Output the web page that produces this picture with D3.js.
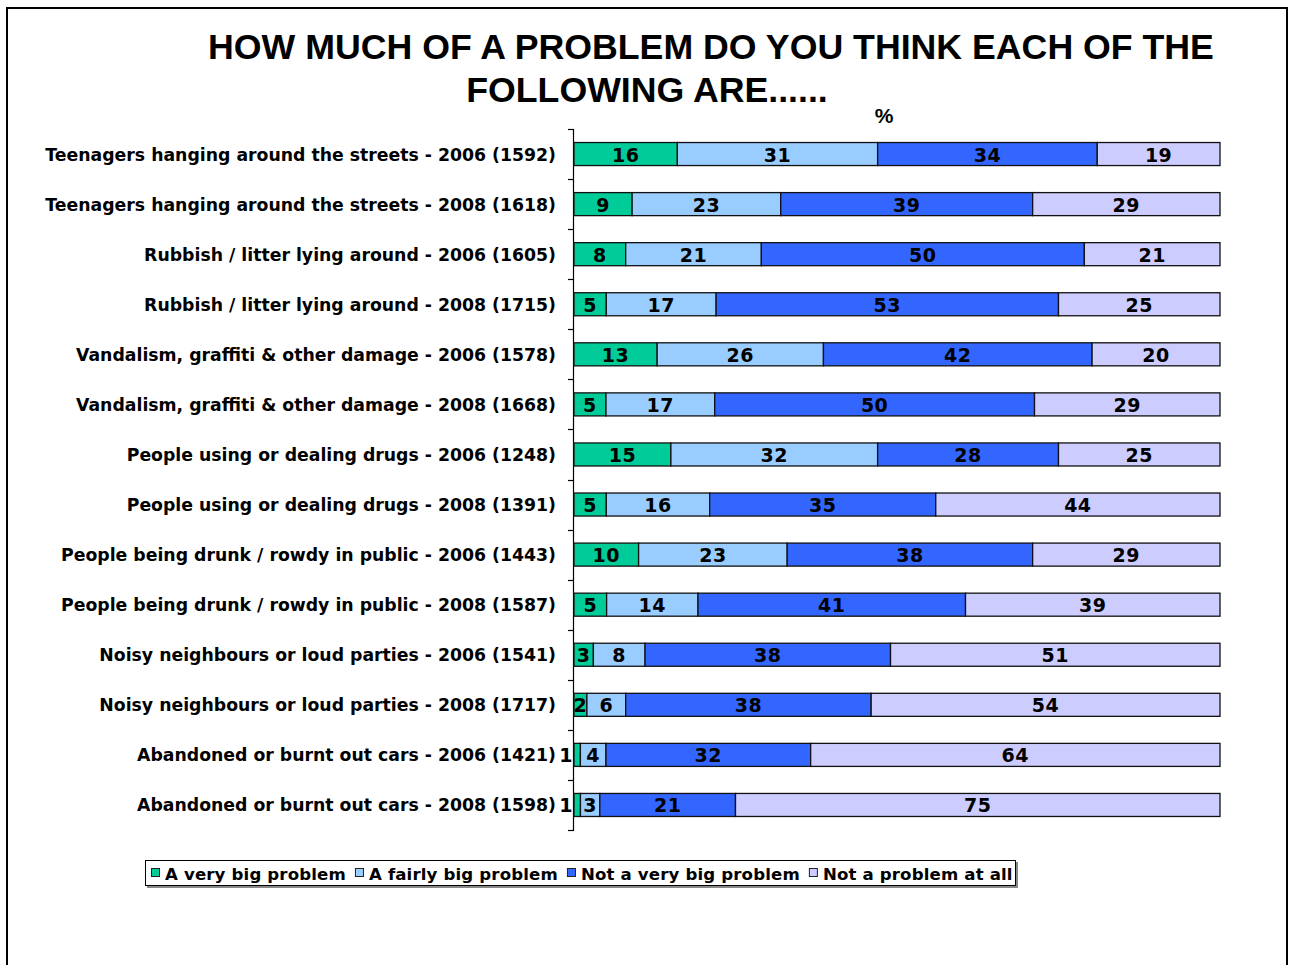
<!DOCTYPE html>
<html><head><meta charset="utf-8">
<script src="https://cdn.jsdelivr.net/npm/d3@7"></script>
<style>body{margin:0;background:#fff}</style>
</head><body>
<svg id="c" width="1291" height="965"></svg>
<script>
const categories = [
 "Teenagers hanging around the streets - 2006 (1592)",
 "Teenagers hanging around the streets - 2008 (1618)",
 "Rubbish / litter lying around - 2006 (1605)",
 "Rubbish / litter lying around - 2008 (1715)",
 "Vandalism, graffiti & other damage - 2006 (1578)",
 "Vandalism, graffiti & other damage - 2008 (1668)",
 "People using or dealing drugs - 2006 (1248)",
 "People using or dealing drugs - 2008 (1391)",
 "People being drunk / rowdy in public - 2006 (1443)",
 "People being drunk / rowdy in public - 2008 (1587)",
 "Noisy neighbours or loud parties - 2006 (1541)",
 "Noisy neighbours or loud parties - 2008 (1717)",
 "Abandoned or burnt out cars - 2006 (1421)",
 "Abandoned or burnt out cars - 2008 (1598)"
];
const seriesNames = ["A very big problem","A fairly big problem","Not a very big problem","Not a problem at all"];
const veryBig    = [16, 9, 8, 5,13, 5,15, 5,10, 5, 3, 2, 1, 1];
const fairlyBig  = [31,23,21,17,26,17,32,16,23,14, 8, 6, 4, 3];
const notVeryBig = [34,39,50,53,42,50,28,35,38,41,38,38,32,21];
const notAtAll   = [19,29,21,25,20,29,25,44,29,39,51,54,64,75];
const colors = ["#00CC99","#99CCFF","#3366FF","#CCCCFF"];
const titleLines = ["HOW MUCH OF A PROBLEM DO YOU THINK EACH OF THE","FOLLOWING ARE......"];

const svg = d3.select("#c");
svg.append("rect").attr("x",0).attr("y",0).attr("width",1291).attr("height",965).attr("fill","#fff");
svg.append("rect").attr("x",7).attr("y",8).attr("width",1280).attr("height",1000)
  .attr("fill","none").attr("stroke","#000").attr("stroke-width",2);

// title
svg.append("text").attr("x",711).attr("y",59).attr("text-anchor","middle")
  .attr("font-family","Liberation Sans, Arial, sans-serif").attr("font-weight","bold")
  .attr("font-size",35.7).text(titleLines[0]);
svg.append("text").attr("x",647).attr("y",102).attr("text-anchor","middle")
  .attr("font-family","Liberation Sans, Arial, sans-serif").attr("font-weight","bold")
  .attr("font-size",35.7).text(titleLines[1]);
svg.append("text").attr("x",884).attr("y",123).attr("text-anchor","middle")
  .attr("font-family","Liberation Sans, Arial, sans-serif").attr("font-weight","bold")
  .attr("font-size",21).text("%");

const rows = categories.map((c,i)=>{
  const vals=[veryBig[i],fairlyBig[i],notVeryBig[i],notAtAll[i]];
  const tot=d3.sum(vals); let acc=0;
  return {cat:c, segs: vals.map((v,k)=>{const s={k, v, x0:acc/tot, x1:(acc+v)/tot}; acc+=v; return s;})};
});

const x = d3.scaleLinear().domain([0,1]).range([574,1220]);
const y = d3.scaleBand().domain(categories).range([129,830]).paddingInner(0.54).paddingOuter(0.27);
const step = y.step(), gap = (step - y.bandwidth())/2;

// axis line and ticks between categories
const axisG = svg.append("g");
axisG.append("line").attr("x1",573.5).attr("x2",573.5).attr("y1",129).attr("y2",830).attr("stroke","#000").attr("stroke-width",1.2);
const tickYs = categories.map(c=>y(c)-gap).concat([y(categories[categories.length-1])+y.bandwidth()+gap]);
axisG.selectAll("line.t").data(tickYs).enter().append("line").attr("class","t")
  .attr("x1",568).attr("x2",574).attr("y1",d=>Math.round(d)+0.5).attr("y2",d=>Math.round(d)+0.5)
  .attr("stroke","#000").attr("stroke-width",1.2);

// category labels
svg.append("g").selectAll("text").data(categories).enter().append("text")
  .attr("x",556).attr("y",d=>y(d)+y.bandwidth()/2+6.5).attr("text-anchor","end")
  .attr("font-family","DejaVu Sans, Verdana, sans-serif").attr("font-weight","bold")
  .attr("font-size",17.3).attr("fill","#000").text(d=>d);

// bars
const rowG = svg.append("g").selectAll("g").data(rows).enter().append("g")
  .attr("transform",d=>`translate(0,${y(d.cat)})`);
rowG.selectAll("rect").data(d=>d.segs).enter().append("rect")
  .attr("x",d=>x(d.x0)).attr("width",d=>x(d.x1)-x(d.x0))
  .attr("y",0).attr("height",y.bandwidth())
  .attr("fill",d=>colors[d.k]).attr("stroke","#111").attr("stroke-width",1.3);
rowG.selectAll("text").data(d=>d.segs).enter().append("text")
  .attr("x",d=> d.v<=1 ? x(d.x0)-1 : (x(d.x0)+x(d.x1))/2)
  .attr("text-anchor",d=> d.v<=1 ? "end" : "middle")
  .attr("y",y.bandwidth()/2+7.5)
  .attr("font-family","DejaVu Sans, Verdana, sans-serif").attr("font-weight","bold")
  .attr("font-size",19).attr("letter-spacing",0.5).attr("fill","#000").text(d=>d.v);

// legend
const lg = svg.append("g");
lg.append("rect").attr("x",147).attr("y",862).attr("width",871).attr("height",26).attr("fill","#888");
lg.append("rect").attr("x",145.5).attr("y",860.5).attr("width",870).attr("height",25).attr("fill","#fff").attr("stroke","#000");
let lx = 151;
seriesNames.forEach((n,i)=>{
  lg.append("rect").attr("x",lx+0.5).attr("y",868.5).attr("width",8).attr("height",8)
    .attr("fill",colors[i]).attr("stroke","#222");
  const t = lg.append("text").attr("x",lx+14).attr("y",879.5).attr("font-family","DejaVu Sans, Verdana, sans-serif")
    .attr("font-weight","bold").attr("font-size",16.6).attr("letter-spacing",0.15).attr("fill","#000").text(n);
  lx += 14 + t.node().getComputedTextLength() + 9;
});
</script>
</body></html>
